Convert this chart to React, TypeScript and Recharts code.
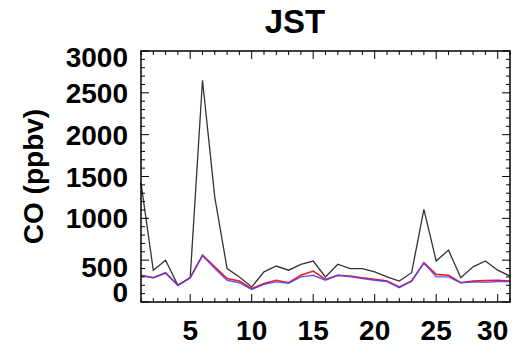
import { LineChart, Line, XAxis, YAxis, Label } from "recharts";

// days of the month
const days = [
  1, 2, 3, 4, 5, 6, 7, 8, 9, 10, 11, 12, 13, 14, 15, 16, 17, 18, 19, 20, 21, 22, 23, 24, 25, 26, 27, 28, 29, 30, 31,
];
// CO (ppbv), observed (black) and two model runs (red, blue)
const obsCO = [
  1420, 380, 500, 200, 290, 2650, 1250, 400, 300, 180, 360, 430, 380, 450, 490, 300, 452, 400, 400, 360, 300, 250,
  350, 1108, 490, 620, 290, 420, 490, 380, 310,
];
const redCO = [
  320, 290, 350, 200, 290, 560, 420, 280, 250, 160, 220, 260, 230, 320, 370, 270, 320, 310, 290, 270, 250, 180, 250,
  470, 330, 320, 230, 250, 255, 260, 250,
];
const blueCO = [
  315, 290, 345, 200, 290, 555, 400, 260, 230, 150, 210, 240, 225, 300, 320, 260, 320, 300, 280, 260, 245, 170, 250,
  465, 300, 300, 230, 240, 235, 245, 245,
];
const xMajor = [5, 10, 15, 20, 25, 30];
const yMajor = [0, 500, 1000, 1500, 2000, 2500, 3000];
const yTicks = Array.from({ length: 31 }, (_, i) => i * 100);

const data = days.map((d, i) => ({ day: d, obs: obsCO[i], red: redCO[i], blue: blueCO[i] }));

const FONT = "'Liberation Sans', Arial, Helvetica, sans-serif";
const W = 526;
const H = 348;
const M = { top: 51, right: 16, bottom: 0, left: 0 };
const XH = 46; // x axis height
const YW = 141; // y axis width
const PLOT_W = W - M.right - YW;
const PLOT_H = H - M.top - XH;
const X0 = 1;
const X1 = 31;
const Y0 = 0;
const Y1 = 3000;
const sx = (d: number) => YW + ((d - X0) / (X1 - X0)) * PLOT_W;
const sy = (v: number) => M.top + PLOT_H - ((v - Y0) / (Y1 - Y0)) * PLOT_H;

// IDL nudges some labels off their tick
const yShift: Record<number, number> = { 0: -10, 500: 7, 3000: 6 };
const xShift: Record<number, number> = { 30: -5 };

function BottomTick(props: any) {
  const { x, y, payload } = props;
  const v = payload.value;
  return (
    <text x={x + (xShift[v] || 0)} y={y + 20} textAnchor="middle" fontFamily={FONT} fontWeight="bold" fontSize={28} fill="#000">
      {v}
    </text>
  );
}

function LeftTick(props: any) {
  const { x, y, payload } = props;
  const v = payload.value;
  return (
    <text x={x} y={y + 10 + (yShift[v] || 0)} textAnchor="end" fontFamily={FONT} fontWeight="bold" fontSize={28} fill="#000">
      {v}
    </text>
  );
}

// box with inward ticks on all four sides, IDL style
function Frame() {
  const top = sy(Y1);
  const bottom = sy(Y0);
  const left = sx(X0);
  const right = sx(X1);
  let d = "";
  days.forEach((v) => {
    const len = xMajor.includes(v) ? 8 : 4;
    d += `M${sx(v)},${bottom}v${-len}M${sx(v)},${top}v${len}`;
  });
  yTicks.forEach((v) => {
    const len = yMajor.includes(v) ? 8 : 4;
    d += `M${left},${sy(v)}h${len}M${right},${sy(v)}h${-len}`;
  });
  return (
    <svg width={W} height={H} style={{ position: "absolute", left: 0, top: 0, pointerEvents: "none" }}>
      <path d={d} stroke="#000" strokeWidth={1} fill="none" />
      <rect x={left} y={top} width={right - left} height={bottom - top} stroke="#000" strokeWidth={1.5} fill="none" />
    </svg>
  );
}

export default function App() {
  return (
    <div style={{ position: "absolute", left: 0, top: 0, width: W, height: H, background: "#fff" }}>
      <LineChart width={W} height={H} data={data} margin={M}>
        <XAxis
          dataKey="day"
          type="number"
          domain={[X0, X1]}
          ticks={xMajor}
          interval={0}
          height={XH}
          tickSize={0}
          tickMargin={18}
          tickLine={false}
          axisLine={false}
          tick={<BottomTick />}
        >
          <Label
            content={() => (
              <text x={295} y={33} textAnchor="middle" fontFamily={FONT} fontWeight="bold" fontSize={33} fill="#000">
                JST
              </text>
            )}
          />
        </XAxis>
        <YAxis
          type="number"
          domain={[Y0, Y1]}
          ticks={yMajor}
          interval={0}
          width={YW}
          tickSize={0}
          tickMargin={13}
          tickLine={false}
          axisLine={false}
          tick={<LeftTick />}
        >
          <Label
            content={() => {
              const cy = M.top + PLOT_H / 2;
              return (
                <text
                  x={43}
                  y={cy}
                  transform={`rotate(-90, 43, ${cy})`}
                  textAnchor="middle"
                  fontFamily={FONT}
                  fontWeight="bold"
                  fontSize={28}
                  fill="#000"
                >
                  CO (ppbv)
                </text>
              );
            }}
          />
        </YAxis>
        <Line type="linear" dataKey="obs" stroke="#333" strokeWidth={1.3} dot={false} isAnimationActive={false} />
        <Line type="linear" dataKey="red" stroke="#ee1c25" strokeWidth={1.6} dot={false} isAnimationActive={false} />
        <Line
          type="linear"
          dataKey="blue"
          stroke="#4a3cf5"
          strokeOpacity={0.85}
          strokeWidth={1.4}
          dot={false}
          isAnimationActive={false}
        />
      </LineChart>
      <Frame />
    </div>
  );
}
